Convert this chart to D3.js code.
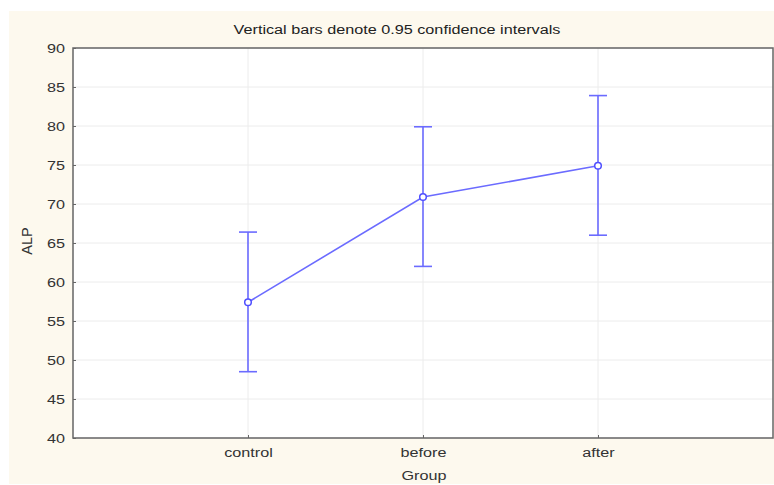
<!DOCTYPE html>
<html>
<head>
<meta charset="utf-8">
<script src="https://cdn.jsdelivr.net/npm/d3@7"></script>
<style>
  body { margin: 0; background: #ffffff; }
  text { font-family: "Liberation Sans", Arial, sans-serif; }
</style>
</head>
<body>
<script>
// chart values
const groups = ['control', 'before', 'after'];
const means = [57.4, 70.9, 74.9];
const lowerCI = [48.5, 62.0, 66.0];
const upperCI = [66.4, 79.9, 83.9];
const yTicks = [40, 45, 50, 55, 60, 65, 70, 75, 80, 85, 90];

const W = 774, H = 485;
const plot = { left: 73, right: 773, top: 48, bottom: 438 };
const FONT = 13.5, STRETCH = 1.2; // the source picture is a bit wider than tall

const svg = d3.select('body').append('svg')
    .attr('width', W)
    .attr('height', H);

// cream panel
svg.append('rect')
    .attr('x', 9).attr('y', 11)
    .attr('width', W - 9).attr('height', H - 12)
    .attr('fill', '#fdf9ee');

svg.append('rect')
    .attr('x', plot.left).attr('y', plot.top)
    .attr('width', plot.right - plot.left).attr('height', plot.bottom - plot.top)
    .attr('fill', '#ffffff');

const x = d3.scalePoint(groups, [plot.left, plot.right]).padding(1);
const y = d3.scaleLinear([40, 90], [plot.bottom, plot.top]);

// grid
svg.append('g')
    .selectAll('line')
    .data(yTicks)
    .join('line')
    .attr('x1', plot.left).attr('x2', plot.right)
    .attr('y1', d => y(d)).attr('y2', d => y(d))
    .attr('stroke', '#ececec');

svg.append('g')
    .selectAll('line')
    .data(groups)
    .join('line')
    .attr('x1', d => x(d)).attr('x2', d => x(d))
    .attr('y1', plot.top).attr('y2', plot.bottom)
    .attr('stroke', '#ececec');

// axes
const yAxis = svg.append('g')
    .attr('transform', `translate(${plot.left},0)`)
    .call(d3.axisLeft(y).tickValues(yTicks).tickSize(-3));
const xAxis = svg.append('g')
    .attr('transform', `translate(0,${plot.bottom})`)
    .call(d3.axisBottom(x).tickSize(-3).tickPadding(9));

[yAxis, xAxis].forEach(g => {
    g.select('.domain').remove();
    g.selectAll('.tick line').attr('stroke', '#666');
    g.selectAll('.tick text')
        .attr('fill', '#333')
        .attr('font-size', FONT)
        .attr('font-family', '"Liberation Sans", Arial, sans-serif')
        .attr('transform', `scale(${STRETCH},1)`);
});
yAxis.selectAll('.tick text').attr('x', -8 / STRETCH);

// frame
svg.append('rect')
    .attr('x', plot.left).attr('y', plot.top)
    .attr('width', plot.right - plot.left).attr('height', plot.bottom - plot.top)
    .attr('fill', 'none')
    .attr('stroke', '#666')
    .attr('stroke-width', 1.5);

// error bars
const blue = '#6b6bff';
const bars = svg.append('g').attr('stroke', blue).attr('stroke-width', 1.6);
bars.selectAll('line.v')
    .data(groups)
    .join('line')
    .attr('class', 'v')
    .attr('x1', d => x(d)).attr('x2', d => x(d))
    .attr('y1', (d, i) => y(lowerCI[i])).attr('y2', (d, i) => y(upperCI[i]));
bars.selectAll('line.lo')
    .data(groups)
    .join('line')
    .attr('class', 'lo')
    .attr('x1', d => x(d) - 9).attr('x2', d => x(d) + 9)
    .attr('y1', (d, i) => y(lowerCI[i])).attr('y2', (d, i) => y(lowerCI[i]));
bars.selectAll('line.hi')
    .data(groups)
    .join('line')
    .attr('class', 'hi')
    .attr('x1', d => x(d) - 9).attr('x2', d => x(d) + 9)
    .attr('y1', (d, i) => y(upperCI[i])).attr('y2', (d, i) => y(upperCI[i]));

// mean line and markers
svg.append('path')
    .datum(groups)
    .attr('fill', 'none')
    .attr('stroke', blue)
    .attr('stroke-width', 1.6)
    .attr('d', d3.line().x(d => x(d)).y((d, i) => y(means[i])));

svg.append('g')
    .selectAll('circle')
    .data(groups)
    .join('circle')
    .attr('cx', d => x(d))
    .attr('cy', (d, i) => y(means[i]))
    .attr('r', 3.3)
    .attr('fill', '#ffffff')
    .attr('stroke', '#4f4fff')
    .attr('stroke-width', 1.5);

// labels
svg.append('text')
    .attr('transform', `translate(397,34) scale(${STRETCH},1)`)
    .attr('text-anchor', 'middle')
    .attr('font-size', FONT)
    .attr('fill', '#222')
    .text('Vertical bars denote 0.95 confidence intervals');

svg.append('text')
    .attr('transform', `translate(424,480) scale(${STRETCH},1)`)
    .attr('text-anchor', 'middle')
    .attr('font-size', FONT)
    .attr('fill', '#333')
    .text('Group');

svg.append('text')
    .attr('transform', `translate(32,241) rotate(-90)`)
    .attr('text-anchor', 'middle')
    .attr('font-size', 14.5)
    .attr('fill', '#333')
    .text('ALP');
</script>
</body>
</html>
